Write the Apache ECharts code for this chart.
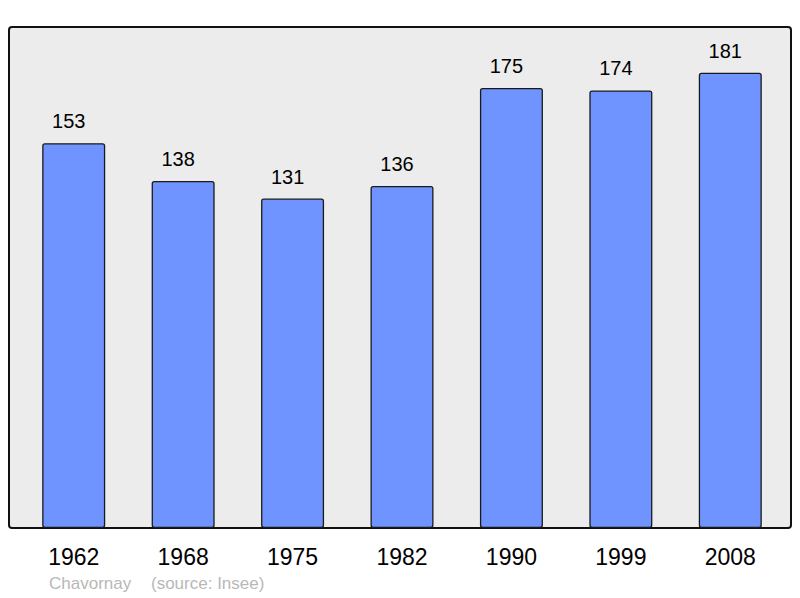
<!DOCTYPE html>
<html>
<head>
<meta charset="utf-8">
<script src="https://cdn.jsdelivr.net/npm/echarts@6/dist/echarts.min.js"></script>
<style>
html,body{margin:0;padding:0;background:#fff;}
#main{width:800px;height:598px;}
</style>
</head>
<body>
<div id="main"></div>
<script>
const years = ['1962','1968','1975','1982','1990','1999','2008'];
const population = [153, 138, 131, 136, 175, 174, 181];
const footerPlace = 'Chavornay';
const footerSource = '(source: Insee)';

const chart = echarts.init(document.getElementById('main'), null, {renderer:'svg'});
chart.setOption({
  animation: false,
  backgroundColor: '#ffffff',
  grid: {
    left: 19, right: 15, top: 25, bottom: 70,
    show: false
  },
  xAxis: {
    type: 'category',
    data: years,
    axisLine: {show: false},
    axisTick: {show: false},
    axisLabel: {
      color: '#000',
      fontFamily: 'Liberation Sans',
      fontSize: 23,
      margin: 17
    }
  },
  yAxis: {
    type: 'value',
    min: 0, max: 200,
    show: false,
    splitLine: {show: false}
  },
  series: [{
    type: 'bar',
    data: population,
    barWidth: 63,
    z: 5,
    itemStyle: {
      color: '#7094ff',
      borderColor: '#1a1a1a',
      borderWidth: 1.3,
      borderRadius: 2
    },
    label: {
      show: true,
      position: 'top',
      distance: 12,
      offset: [-5, 0],
      color: '#000',
      fontFamily: 'Liberation Sans',
      fontSize: 20
    }
  }],
  graphic: [{
    type: 'rect',
    z: -10,
    shape: {x: 9, y: 27, width: 782, height: 501, r: 3},
    style: {fill: '#ececec', stroke: '#111', lineWidth: 2}
  }, {
    type: 'text',
    left: 49,
    top: 575,
    style: {text: footerPlace, fill: '#b8b8b8', font: '17px "Liberation Sans"'}
  }, {
    type: 'text',
    left: 151,
    top: 575,
    style: {text: footerSource, fill: '#b8b8b8', font: '17px "Liberation Sans"'}
  }]
});
</script>
</body>
</html>
